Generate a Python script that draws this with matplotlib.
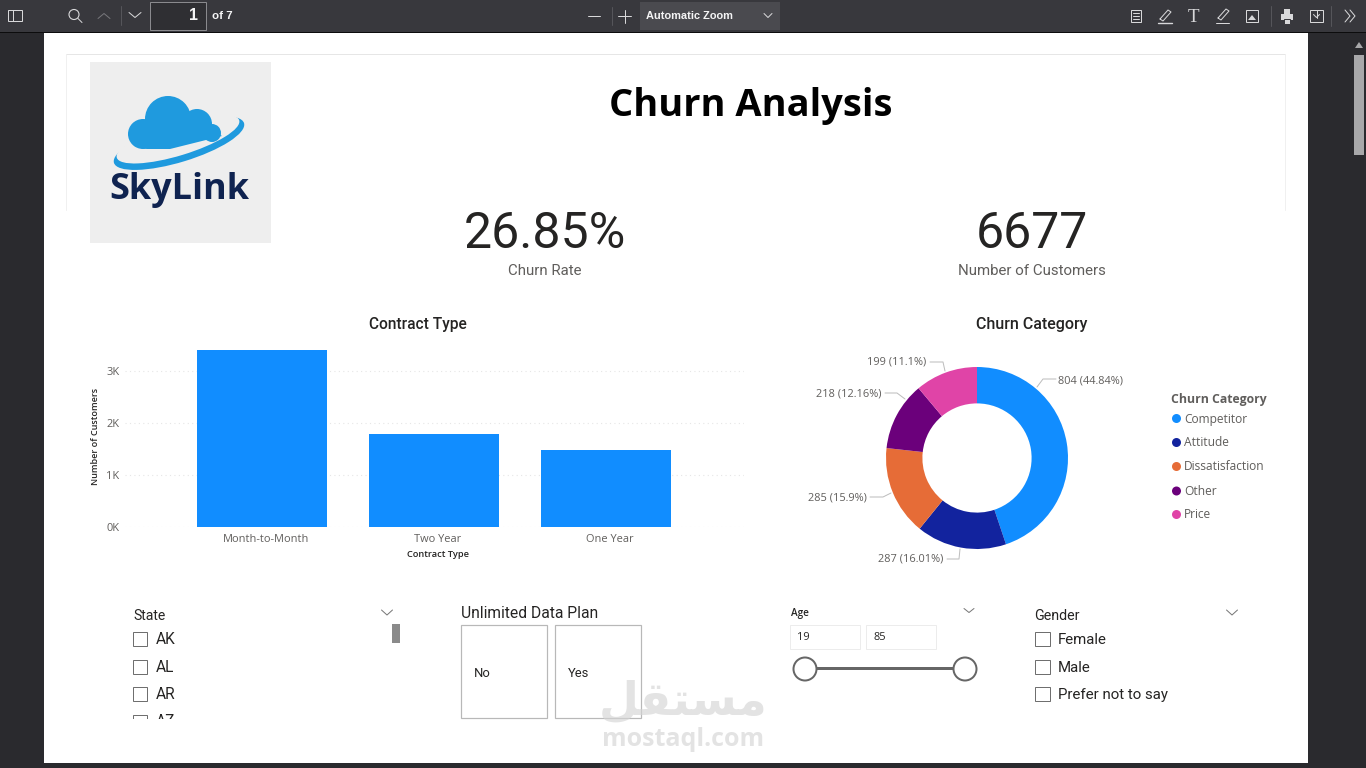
import numpy as np
import matplotlib
matplotlib.use("Agg")
import matplotlib.pyplot as plt
from matplotlib.patches import Rectangle, Circle, Ellipse, Polygon
from matplotlib.transforms import ScaledTranslation

W, H = 1366, 768

# data
contract_types = ["Month-to-Month", "Two Year", "One Year"]
contract_customers = [3400, 1790, 1480]
y_ticks = [0, 1000, 2000, 3000]
y_tick_labels = ["0K", "1K", "2K", "3K"]

churn_categories = ["Competitor", "Attitude", "Dissatisfaction", "Other", "Price"]
churn_counts = [804, 287, 285, 218, 199]
churn_pcts = ["44.84%", "16.01%", "15.9%", "12.16%", "11.1%"]
churn_colors = ["#118DFF", "#12239E", "#E66C37", "#6B007B", "#E044A7"]

states = ["AK", "AL", "AR"]
plan_options = ["No", "Yes"]
genders = ["Female", "Male", "Prefer not to say"]
age_range = ["19", "85"]

DIN = "Roboto"
SEGOE = "Open Sans"
BLUE = "#118DFF"


def box(x0, y0, x1, y1):
    # pixel box (y from top) to figure fractions
    return [x0 / W, 1 - y1 / H, (x1 - x0) / W, (y1 - y0) / H]


fig = plt.figure(figsize=(W / 100, H / 100), dpi=100, facecolor="#2a2a2e")

# background layer in pixel coordinates
bg = fig.add_axes([0, 0, 1, 1], zorder=0)
bg.set_xlim(0, W)
bg.set_ylim(H, 0)
bg.axis("off")

# foreground layer, same coordinates
ov = fig.add_axes([0, 0, 1, 1], zorder=5)
ov.set_xlim(0, W)
ov.set_ylim(H, 0)
ov.axis("off")
ov.patch.set_alpha(0)


def txt(x, y, s, px, color="#252423", family=SEGOE, weight="normal", ha="left", va="center", ax=ov, **kw):
    return ax.text(x, y, s, fontsize=px * 0.72, color=color, family=family, weight=weight,
                   ha=ha, va=va, **kw)


def line(xs, ys, color="#c8c8c8", lw=1.0, ax=ov, **kw):
    ax.plot(xs, ys, color=color, lw=lw * 0.72, solid_capstyle="round", **kw)


def rect(x0, y0, x1, y1, fc="none", ec="none", lw=1.0, ax=ov, **kw):
    ax.add_patch(Rectangle((x0, y0), x1 - x0, y1 - y0, fc=fc, ec=ec, lw=lw * 0.72, **kw))


def chevron(cx, cy, w=5, h=4, color="#777777", lw=1.0, ax=ov):
    line([cx - w, cx, cx + w], [cy - h / 2, cy + h / 2, cy - h / 2], color=color, lw=lw, ax=ax)


# page and toolbar
rect(44, 33, 1308, 763, fc="white", ax=bg)
rect(0, 0, W, 32, fc="#38383d", ax=bg)
rect(0, 32, W, 33, fc="#0c0c0d", ax=bg)
rect(1354, 55, 1364, 155, fc="#a8a8aa", ax=bg)
bg.add_patch(Polygon([[1355, 48], [1363, 48], [1359, 42]], fc="#a8a8aa", ec="none"))
rect(640, 2, 780, 30, fc="#4a4a4f", ax=bg)
rect(150, 2, 205.5, 29.5, fc="#2f2f33", ec="#8a8a8e", lw=1, ax=bg)

ICON = "#d8d8da"
rect(8, 10, 22, 21, ec=ICON, ax=bg)
line([13, 13], [10, 21], color=ICON, ax=bg)
bg.add_patch(Circle((74, 14.5), 5, fc="none", ec=ICON, lw=0.8))
line([78, 82], [18.5, 22.5], color=ICON, ax=bg)
chevron(104, 16, w=6, h=-5, color="#77777b", ax=bg)
line([121, 121], [6, 25], color="#55555a", ax=bg)
chevron(135, 15, w=6, h=5, color=ICON, ax=bg)
txt(198, 16, "1", 16, color="#f4f4f5", family="Liberation Sans", weight="bold", ha="right", ax=bg)
txt(212, 16, "of 7", 11.5, color="#f4f4f5", family="Liberation Sans", weight="bold", ax=bg)
line([588, 600], [16, 16], color=ICON, ax=bg)
line([612, 612], [7, 25], color="#55555a", ax=bg)
line([618, 631], [16, 16], color=ICON, ax=bg)
line([624.5, 624.5], [10, 23], color=ICON, ax=bg)
txt(646, 16, "Automatic Zoom", 11, color="#f4f4f5", family="Liberation Sans", weight="bold", ax=bg)
chevron(768, 15.5, w=4, h=4, color=ICON, ax=bg)
# right hand tools
rect(1131, 10, 1141, 22, ec=ICON, ax=bg)
for yy in (13, 16, 19):
    line([1133, 1139], [yy, yy], color=ICON, ax=bg)
line([1160, 1168, 1171, 1163, 1160], [19, 10, 12, 21, 19], color=ICON, ax=bg)
line([1158, 1172], [23, 23], color=ICON, lw=1.4, ax=bg)
txt(1194, 17, "T", 19, color=ICON, family="Liberation Serif", ha="center", ax=bg)
line([1218, 1226, 1229, 1221, 1218], [18, 9, 11, 20, 18], color=ICON, ax=bg)
line([1216, 1229], [23, 23], color=ICON, ax=bg)
rect(1246, 10, 1258, 22, ec=ICON, ax=bg)
bg.add_patch(Polygon([[1248, 20], [1252, 15], [1256, 20]], fc=ICON, ec="none"))
line([1271, 1271], [6, 26], color="#55555a", ax=bg)
rect(1281, 14, 1293, 20, fc=ICON, ax=bg)
rect(1284, 9, 1290, 14, fc=ICON, ax=bg)
rect(1284, 19, 1290, 24, fc=ICON, ec="#38383d", ax=bg)
rect(1310, 10, 1323, 22, ec=ICON, ax=bg)
line([1316.5, 1316.5], [10, 18], color=ICON, ax=bg)
chevron(1316.5, 16, w=3, h=3, color=ICON, ax=bg)
line([1331, 1331], [6, 26], color="#55555a", ax=bg)
line([1345, 1350, 1345], [10, 16, 22], color=ICON, ax=bg)
line([1350, 1355, 1350], [10, 16, 22], color=ICON, ax=bg)

# faint frame of the report title block
line([66, 1285], [54, 54], color="#e6e6e6", ax=bg)
line([66, 66], [54, 210], color="#f0f0f0", ax=bg)
line([1285, 1285], [54, 210], color="#f0f0f0", ax=bg)

# logo
rect(90, 62, 271, 243, fc="#eeeeee")
SKY = "#1f9ade"
ov.add_patch(Ellipse((179, 143), 136, 38, angle=-17, fc=SKY, ec="none"))
ov.add_patch(Ellipse((178, 139), 128, 33, angle=-17, fc="#eeeeee", ec="none"))
for cx, cy, r in [(168, 119, 23), (143, 134, 15), (197, 124, 15), (212, 133, 9)]:
    ov.add_patch(Circle((cx, cy), r, fc=SKY, ec="none"))
ov.add_patch(Polygon([[134, 146], [147, 149], [170, 149], [222, 136], [200, 122], [150, 122]],
                     fc=SKY, ec="none"))
txt(179, 190, "SkyLink", 36, color="#0f2350", weight="bold", ha="center")

# header and cards
txt(751, 106, "Churn Analysis", 38, color="black", weight="bold", ha="center")
txt(545, 234, "26.85%", 50, family=DIN, ha="center")
txt(545, 271, "Churn Rate", 15, color="#605e5c", family=DIN, ha="center")
txt(1032, 234, "6677", 50, family=DIN, ha="center")
txt(1032, 271, "Number of Customers", 15, color="#605e5c", family=DIN, ha="center")

# bar chart
txt(418, 325, "Contract Type", 15.5, family=DIN, weight="medium", ha="center")
ax = fig.add_axes(box(125, 345, 744, 527), zorder=2)
x_pos = np.arange(len(contract_types))
ax.bar(x_pos, contract_customers, width=0.756, color=BLUE, zorder=3)
ax.set_xlim(-0.797, 2.802)
ax.set_ylim(0, 3500)
ax.set_yticks(y_ticks, y_tick_labels)
ax.set_xticks(x_pos, contract_types)
ax.tick_params(length=0, labelsize=11 * 0.72, labelcolor="#605e5c", pad=5)
ax.tick_params(axis="y", pad=4)
for lab in ax.get_yticklabels():
    lab.set_family(SEGOE)
shift = ScaledTranslation(4 / 100, 0, fig.dpi_scale_trans)
for lab in ax.get_xticklabels():
    lab.set_family(SEGOE)
    lab.set_transform(lab.get_transform() + shift)
ax.grid(axis="y", color="#e6e6e6", lw=0.8, ls=(0, (1, 3)))
ax.set_axisbelow(True)
for s in ax.spines.values():
    s.set_visible(False)
ax.set_xlabel("Contract Type", fontsize=9.3 * 0.72, family=SEGOE, weight="semibold",
              color="#252423")
ax.xaxis.set_label_coords((438 - 125) / (744 - 125), -(550 - 527) / 182)
ax.set_ylabel("Number of Customers", fontsize=9 * 0.72, family=SEGOE, weight="semibold",
              color="#252423")
ax.yaxis.set_label_coords((100 - 125) / (744 - 125), 0.5 - (436 - 436) / 182)

# donut
txt(1032, 325, "Churn Category", 16, family=DIN, weight="medium", ha="center")
ax2 = fig.add_axes(box(977 - 91, 458 - 91, 977 + 91, 458 + 91), zorder=2)
ax2.pie(churn_counts, colors=churn_colors, startangle=90, counterclock=False, radius=1,
        wedgeprops=dict(width=0.4, edgecolor="none"))
ax2.set_xlim(-1, 1)
ax2.set_ylim(-1, 1)
ax2.patch.set_alpha(0)

label_spots = [(1058, 381, "left"), (943, 559, "right"), (867, 498, "right"),
               (882, 394, "right"), (926, 362, "right")]
leaders = [([1037, 1043, 1056], [387, 379, 379]), ([960, 959, 947], [549, 559, 559]),
           ([891, 883, 870], [493, 497, 497]), ([905, 897, 885], [399, 393, 393]),
           ([945, 943, 930], [371, 362, 362])]
for v, p, (lx, ly, ha), (xs, ys) in zip(churn_counts, churn_pcts, label_spots, leaders):
    txt(lx, ly, f"{v} ({p})", 11, color="#605e5c", ha=ha)
    line(xs, ys, color="#bdbdbd", lw=1)

txt(1171, 399, "Churn Category", 12.2, color="#605e5c", weight="bold")
legend_y = [418.5, 442.5, 466.5, 491, 514.5]
for name, col, yy in zip(churn_categories, churn_colors, legend_y):
    ov.add_patch(Circle((1176.5, yy), 4.5, fc=col, ec="none"))
    txt(1184, yy + 0.5, name, 12, color="#605e5c")

# state slicer
CHK = "#6f6f6f"
txt(133.5, 615.5, "State", 14, family=DIN)
chevron(387, 612.5, w=5.5, h=5)
rect(392, 624, 400, 643, fc="#8a8a8a")
for name, yy in zip(states, [638.5, 666.5, 693.5]):
    rect(133, yy - 7, 147, yy + 7, fc="white", ec=CHK, lw=1)
    txt(156, yy + 1, name, 15.5, family=DIN)
# the fourth row is cut off by the slicer edge
rect(133, 715, 147, 730, fc="white", ec=CHK, lw=1)
txt(156, 722, "AZ", 15.5, family=DIN)
rect(125, 719, 200, 735, fc="white", zorder=4)

# data plan slicer
txt(461, 613, "Unlimited Data Plan", 15.6, family=DIN)
for name, x0 in zip(plan_options, [461, 555]):
    rect(x0, 625, x0 + 86, 718, fc="white", ec="#b8b8b8", lw=1.2)
    txt(x0 + 13, 673.5, name, 13, color="#252423", family=DIN)

# age slicer
txt(791, 613.5, "Age", 10, family=SEGOE, weight="semibold")
chevron(969, 610.5, w=5, h=4)
for val, x0 in zip(age_range, [790, 866]):
    rect(x0, 625, x0 + 70, 649, fc="white", ec="#ececec", lw=1)
    txt(x0 + 7, 638, val, 11)
line([805, 965], [668, 668], color="#666666", lw=3)
for cx in (805, 965):
    ov.add_patch(Circle((cx, 669), 11.5, fc="white", ec="#666666", lw=2 * 0.72, zorder=4))

# gender slicer
txt(1034.5, 615.5, "Gender", 14.2, family=DIN)
chevron(1232, 612.5, w=5.5, h=5)
for name, yy in zip(genders, [638.5, 666.5, 693.5]):
    rect(1034.5, yy - 7, 1049.5, yy + 7, fc="white", ec=CHK, lw=1)
    txt(1058, yy + 1, name, 15, family=DIN)

# watermark
ov.text(683, 702, "\uFEDE\uFED8\uFE98\uFEB4\uFEE3", fontsize=46 * 0.72, family="DejaVu Sans", weight="bold",
        color="#d4d4d4", alpha=0.65, ha="center", va="center", zorder=6)
ov.text(683, 740, "mostaql.com", fontsize=25 * 0.72, family="Open Sans", weight="bold",
        color="#d4d4d4", alpha=0.65, ha="center", va="center", zorder=6)

fig.savefig("out.png", dpi=100, facecolor=fig.get_facecolor())
